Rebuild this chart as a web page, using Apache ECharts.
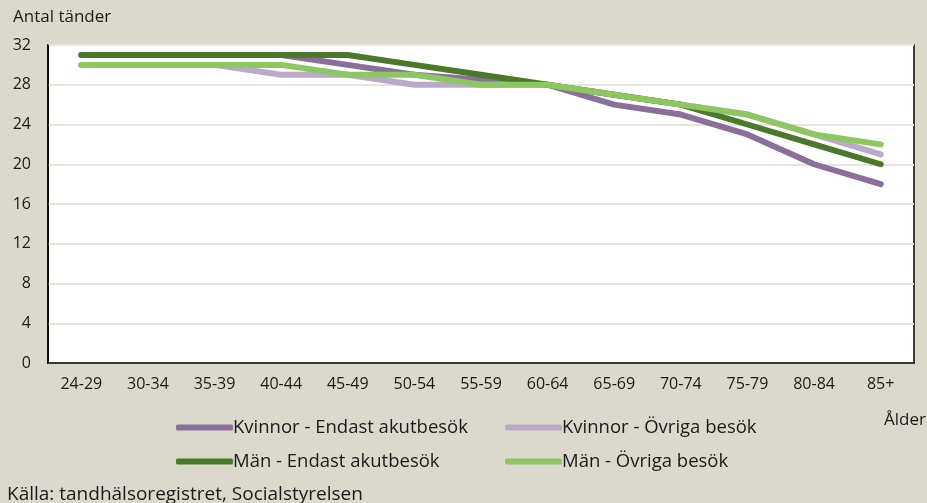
<!DOCTYPE html>
<html>
<head>
<meta charset="utf-8">
<script src="https://cdn.jsdelivr.net/npm/echarts@6/dist/echarts.min.js"></script>
<style>
  html, body { margin: 0; padding: 0; background: #dbd9cc; }
  #main { width: 927px; height: 503px; }
</style>
</head>
<body>
<div id="main"></div>
<script>
// kategorier (ålder)
const ageGroups = ['24-29', '30-34', '35-39', '40-44', '45-49', '50-54', '55-59',
  '60-64', '65-69', '70-74', '75-79', '80-84', '85+']

// antal tänder per grupp
const kvinnorAkut = [31, 31, 31, 31, 30, 29, 28.5, 28, 26, 25, 23, 20, 18]
const kvinnorOvriga = [30, 30, 30, 29, 29, 28, 28, 28, 27, 26, 25, 23, 21]
const manAkut = [31, 31, 31, 31, 31, 30, 29, 28, 27, 26, 24, 22, 20]
const manOvriga = [30, 30, 30, 30, 29, 29, 28, 28, 27, 26, 25, 23, 22]

const font = '"Open Sans", "DejaVu Sans", sans-serif'
const txt = '#1a1a1a'

const myChart = echarts.init(document.getElementById('main'))

function line(name, color, data) {
  return {
    name: name,
    type: 'line',
    data: data,
    symbol: 'none',
    lineStyle: { width: 6, color: color, cap: 'round', join: 'round' },
    itemStyle: { color: color }
  }
}

// en legend per post så kolumnerna linjerar
function legend(name, left, top) {
  return {
    data: [name],
    left: left,
    top: top,
    icon: 'roundRect',
    itemWidth: 57,
    itemHeight: 6,
    itemGap: 0,
    textStyle: { fontFamily: font, fontSize: 18.5, color: txt, padding: [0, 0, 0, -5] }
  }
}

myChart.setOption({
  backgroundColor: '#dbd9cc',
  animation: false,
  title: [
    {
      text: 'Antal tänder',
      left: 8, top: 4,
      textStyle: { fontFamily: font, fontSize: 17, fontWeight: 'normal', color: txt }
    },
    {
      text: 'Ålder',
      left: 879, top: 407,
      textStyle: { fontFamily: font, fontSize: 17, fontWeight: 'normal', color: txt }
    },
    {
      text: 'Källa: tandhälsoregistret, Socialstyrelsen',
      left: 2, top: 480,
      textStyle: { fontFamily: font, fontSize: 19, fontWeight: 'normal', color: txt }
    }
  ],
  legend: [
    legend('Kvinnor - Endast akutbesök', 171, 413),
    legend('Kvinnor - Övriga besök', 500, 413),
    legend('Män - Endast akutbesök', 171, 447),
    legend('Män - Övriga besök', 500, 447)
  ],
  grid: {
    left: 48,
    right: 13,
    top: 45,
    bottom: 140,
    show: true,
    backgroundColor: '#ffffff',
    borderColor: '#000000',
    borderWidth: 1.5
  },
  xAxis: {
    type: 'category',
    data: ageGroups,
    boundaryGap: true,
    axisLine: { lineStyle: { color: '#000000', width: 1.5 } },
    axisTick: { inside: true, length: 5, lineStyle: { color: '#888888' } },
    axisLabel: { fontFamily: font, fontSize: 16, color: txt, margin: 13 }
  },
  yAxis: {
    type: 'value',
    min: 0,
    max: 32,
    interval: 4,
    axisLine: { show: true, lineStyle: { color: '#000000', width: 1.5 } },
    axisTick: { show: false },
    axisLabel: { fontFamily: font, fontSize: 16, color: txt, margin: 17 },
    splitLine: { lineStyle: { color: '#e6e4dc', width: 2 } }
  },
  series: [
    line('Kvinnor - Endast akutbesök', '#8b6f9b', kvinnorAkut),
    line('Kvinnor - Övriga besök', '#bba9c8', kvinnorOvriga),
    line('Män - Endast akutbesök', '#4a7a29', manAkut),
    line('Män - Övriga besök', '#8cc762', manOvriga)
  ]
})
</script>
</body>
</html>
